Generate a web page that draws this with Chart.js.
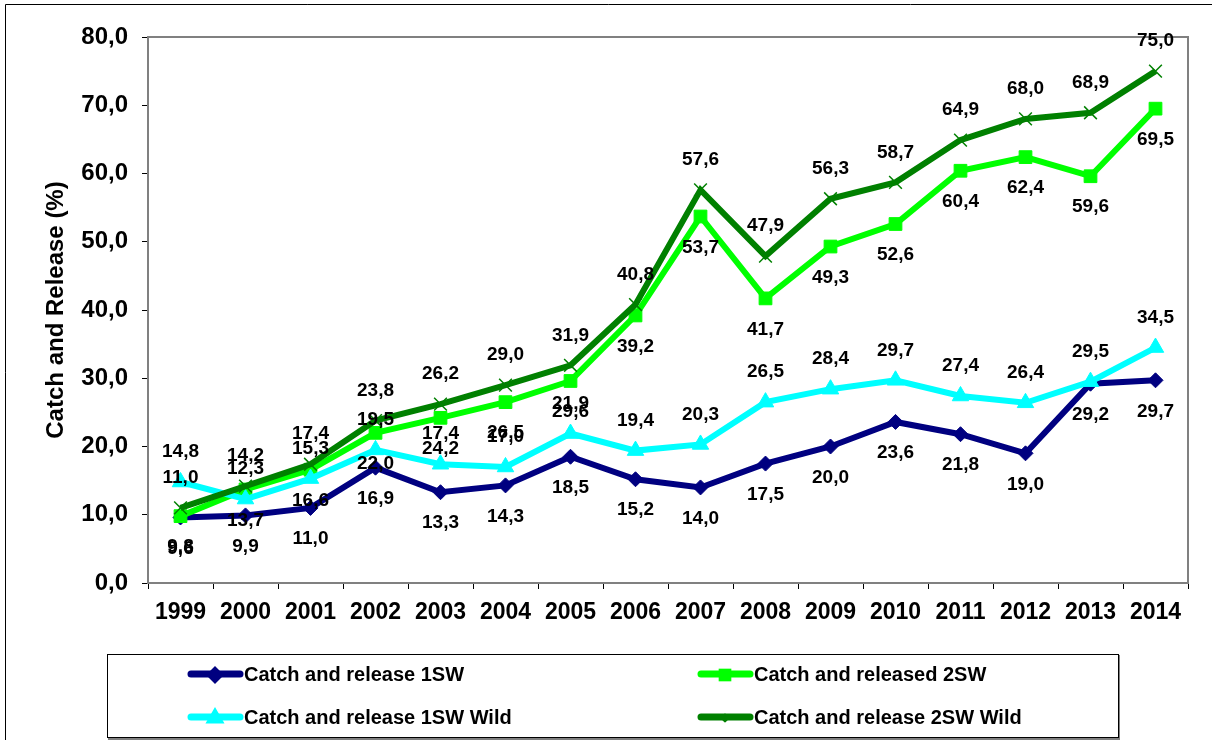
<!DOCTYPE html>
<html>
<head>
<meta charset="utf-8">
<script src="https://cdn.jsdelivr.net/npm/chart.js@4"></script>
<style>
  html, body { margin: 0; padding: 0; background: #fff; }
  #wrap { position: relative; width: 1212px; height: 740px; }
</style>
</head>
<body>
<div id="wrap"><canvas id="crChart" width="1212" height="740"></canvas></div>
<script>
var years = ['1999', '2000', '2001', '2002', '2003', '2004', '2005', '2006', '2007', '2008', '2009', '2010', '2011', '2012', '2013', '2014'];
var yTicks = [0, 10, 20, 30, 40, 50, 60, 70, 80];

var release1SW = [9.6, 9.9, 11.0, 16.9, 13.3, 14.3, 18.5, 15.2, 14.0, 17.5, 20.0, 23.6, 21.8, 19.0, 29.2, 29.7];
var released2SW = [9.8, 13.7, 16.6, 22.0, 24.2, 26.5, 29.6, 39.2, 53.7, 41.7, 49.3, 52.6, 60.4, 62.4, 59.6, 69.5];
var release1SWWild = [14.8, 12.3, 15.3, 19.5, 17.4, 17.0, 21.9, 19.4, 20.3, 26.5, 28.4, 29.7, 27.4, 26.4, 29.5, 34.5];
var release2SWWild = [11.0, 14.2, 17.4, 23.8, 26.2, 29.0, 31.9, 40.8, 57.6, 47.9, 56.3, 58.7, 64.9, 68.0, 68.9, 75.0];

var FONT = "'Liberation Sans', Arial, sans-serif";

function comma(v){
    return Number(v).toFixed(1).replace('.', ',');
}

function makeSeries(label, data, color, style, radius, order, labelSide){
    return {
        label: label,
        data: data,
        borderColor: color,
        backgroundColor: color,
        pointBackgroundColor: color,
        pointBorderColor: color,
        pointStyle: style,
        pointRadius: radius,
        pointBorderWidth: style == 'crossRot' ? 1.5 : 1,
        borderWidth: 6,
        tension: 0,
        fill: false,
        order: order,
        labelSide: labelSide
    };
}

// value labels, drawn above or below each point
var valueLabels = {
    id: 'valueLabels',
    afterDatasetsDraw: function(chart){
        var ctx = chart.ctx;
        ctx.save();
        ctx.font = 'bold 19px ' + FONT;
        ctx.fillStyle = '#000';
        ctx.textAlign = 'center';
        ctx.textBaseline = 'middle';
        chart.data.datasets.forEach(function(ds, i){
            var meta = chart.getDatasetMeta(i);
            meta.data.forEach(function(pt, j){
                var dy = ds.labelSide == 'above' ? -30 : 31;
                ctx.fillText(comma(ds.data[j]), pt.x, pt.y + dy);
            });
        });
        ctx.restore();
    }
};

// plot frame, outer frame and legend box
var frames = {
    id: 'frames',
    beforeDatasetsDraw: function(chart){
        var ctx = chart.ctx, a = chart.chartArea;
        ctx.save();
        ctx.strokeStyle = '#808080';
        ctx.lineWidth = 2;
        ctx.strokeRect(a.left, a.top, a.right - a.left, a.bottom - a.top);
        ctx.restore();
    },
    afterDraw: function(chart){
        var ctx = chart.ctx;
        ctx.save();
        ctx.strokeStyle = '#000';
        ctx.lineWidth = 1;
        ctx.beginPath();
        ctx.moveTo(5.5, 740);
        ctx.lineTo(5.5, 4.5);
        ctx.lineTo(1212, 4.5);
        ctx.stroke();

        // legend
        ctx.strokeStyle = '#808080';
        ctx.lineWidth = 2;
        ctx.beginPath();
        ctx.moveTo(108, 739);
        ctx.lineTo(1119, 739);
        ctx.lineTo(1119, 655);
        ctx.stroke();
        ctx.strokeStyle = '#000';
        ctx.lineWidth = 1;
        ctx.strokeRect(107.5, 654.5, 1011, 83);

        var slots = [[188, 674], [698, 674], [188, 717], [698, 717]];
        ctx.font = 'bold 20px ' + FONT;
        ctx.textBaseline = 'middle';
        ctx.textAlign = 'left';
        chart.data.datasets.forEach(function(ds, i){
            var s = slots[i];
            ctx.strokeStyle = ds.borderColor;
            ctx.lineWidth = 7;
            ctx.lineCap = 'round';
            ctx.beginPath();
            ctx.moveTo(s[0] + 3, s[1]);
            ctx.lineTo(s[0] + 52, s[1]);
            ctx.stroke();
            ctx.lineCap = 'butt';
            ctx.fillStyle = ds.borderColor;
            Chart.helpers.drawPoint(ctx, {
                pointStyle: ds.pointStyle,
                radius: ds.pointStyle == 'crossRot' ? 3 : 4,
                borderWidth: 1
            }, s[0] + 27, s[1] + 1);
            ctx.fillStyle = '#000';
            ctx.fillText(ds.label, s[0] + 56, s[1] + 1);
        });
        ctx.restore();
    }
};

var chartConfig = {
    type: 'line',
    data: {
        labels: years,
        datasets: [
            makeSeries('Catch and release 1SW', release1SW, '#000080', 'rectRot', 7.5, 4, 'below'),
            makeSeries('Catch and released 2SW', released2SW, '#00FF00', 'rect', 9, 3, 'below'),
            makeSeries('Catch and release 1SW Wild', release1SWWild, '#00FFFF', 'triangle', 9.5, 2, 'above'),
            makeSeries('Catch and release 2SW Wild', release2SWWild, '#008000', 'crossRot', 9, 1, 'above')
        ]
    },
    options: {
        responsive: false,
        animation: false,
        devicePixelRatio: 1,
        layout: { padding: { left: 0, top: 37, right: 24, bottom: 117 } },
        plugins: {
            legend: { display: false },
            tooltip: { enabled: false }
        },
        scales: {
            x: {
                offset: true,
                grid: { offset: true, drawOnChartArea: false, tickLength: 6, color: '#000', tickColor: '#000' },
                border: { color: '#404040', width: 2 },
                ticks: { color: '#000', font: { family: FONT, size: 23, weight: 'bold' }, padding: 10, maxRotation: 0, autoSkip: false },
                afterFit: function(scale){ scale.height = 40; }
            },
            y: {
                min: 0,
                max: 80,
                afterBuildTicks: function(scale){ scale.ticks = yTicks.map(function(v){ return { value: v }; }); },
                grid: { drawOnChartArea: false, tickLength: 6, color: '#000', tickColor: '#000' },
                border: { color: '#808080', width: 2 },
                ticks: { color: '#000', font: { family: FONT, size: 24, weight: 'bold' }, padding: 14, callback: function(v){ return comma(v); } },
                title: { display: true, text: 'Catch and Release (%)', color: '#000', font: { family: FONT, size: 24, weight: 'bold' }, padding: { top: 42, bottom: 0 } },
                afterFit: function(scale){ scale.width = 148; }
            }
        }
    },
    plugins: [frames, valueLabels]
};

var crChart = new Chart(document.getElementById('crChart').getContext('2d'), chartConfig);
</script>
</body>
</html>
